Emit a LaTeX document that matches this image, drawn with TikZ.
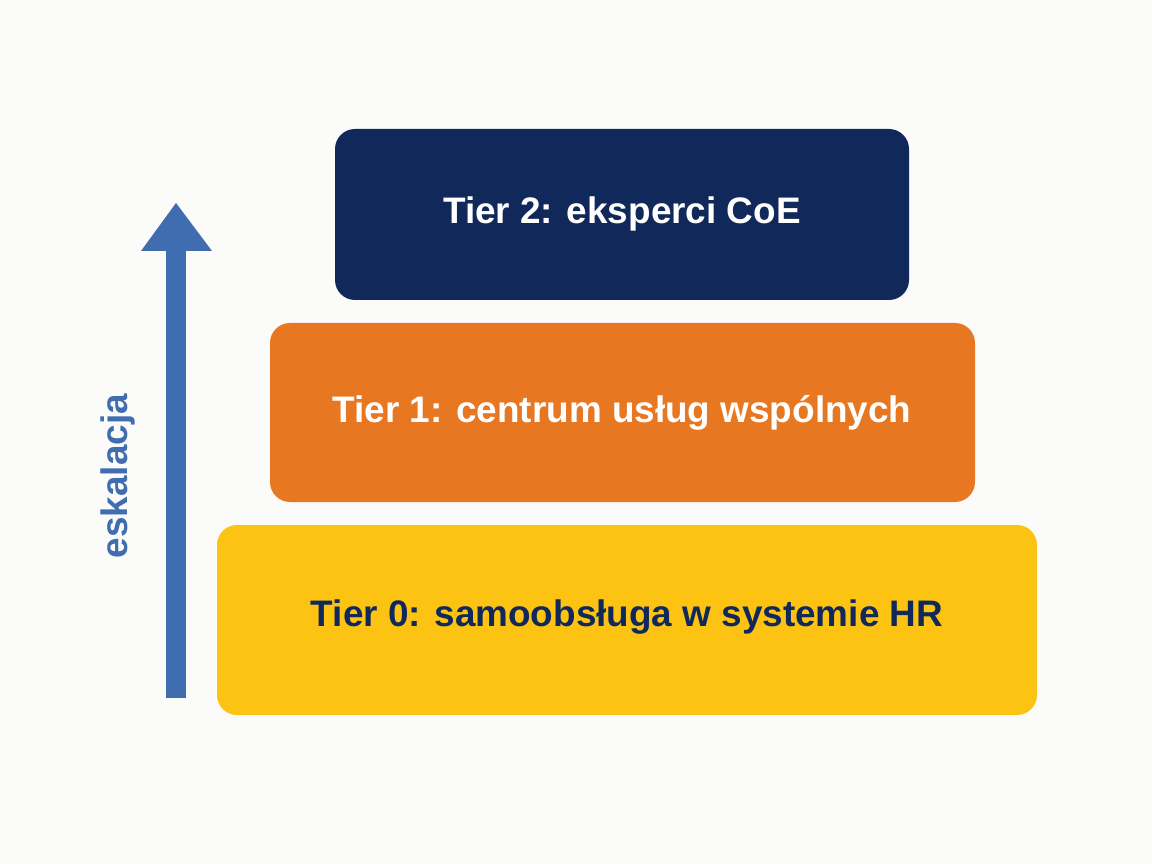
\documentclass[tikz,border=0pt]{standalone}
\usepackage{fontspec}
\setmainfont{Liberation Sans}
\definecolor{bg}{HTML}{FBFBF9}
\definecolor{navy}{HTML}{10295A}
\definecolor{orng}{HTML}{E87722}
\definecolor{yel}{HTML}{FDC313}
\definecolor{arr}{HTML}{3F6DAF}
\begin{document}
\begin{tikzpicture}[x=0.02cm,y=-0.02cm,
  tier/.style={rounded corners=0.4cm,font=\fontsize{21}{25}\selectfont\bfseries}]
\fill[bg] (0,0) rectangle (1152,864);
\useasboundingbox (0,0) rectangle (1152,864);
\fill[tier,navy] (335,129) rectangle (909,300);
\node[tier,text=white] (t2) at (622,214) {Tier 2: eksperci CoE};
\fill[tier,orng] (270,323) rectangle (975,502);
\node[tier,text=white] (t1) at (622,413) {Tier 1: centrum usług wspólnych};
\fill[tier,yel] (217,525) rectangle (1037,715);
\node[tier,text=navy] (t0) at (627,617) {Tier 0: samoobsługa w systemie HR};
\coordinate (a0) at (176,698);
\coordinate (a1) at (176,250);
\fill[arr] (166,698) rectangle (186,250);
\fill[arr] (141,251) -- (176,203) -- (212,251) -- cycle;
\node[rotate=90,text=arr,font=\fontsize{21}{25}\selectfont\bfseries] (lab) at (118,476) {eskalacja};
\end{tikzpicture}
\end{document}
